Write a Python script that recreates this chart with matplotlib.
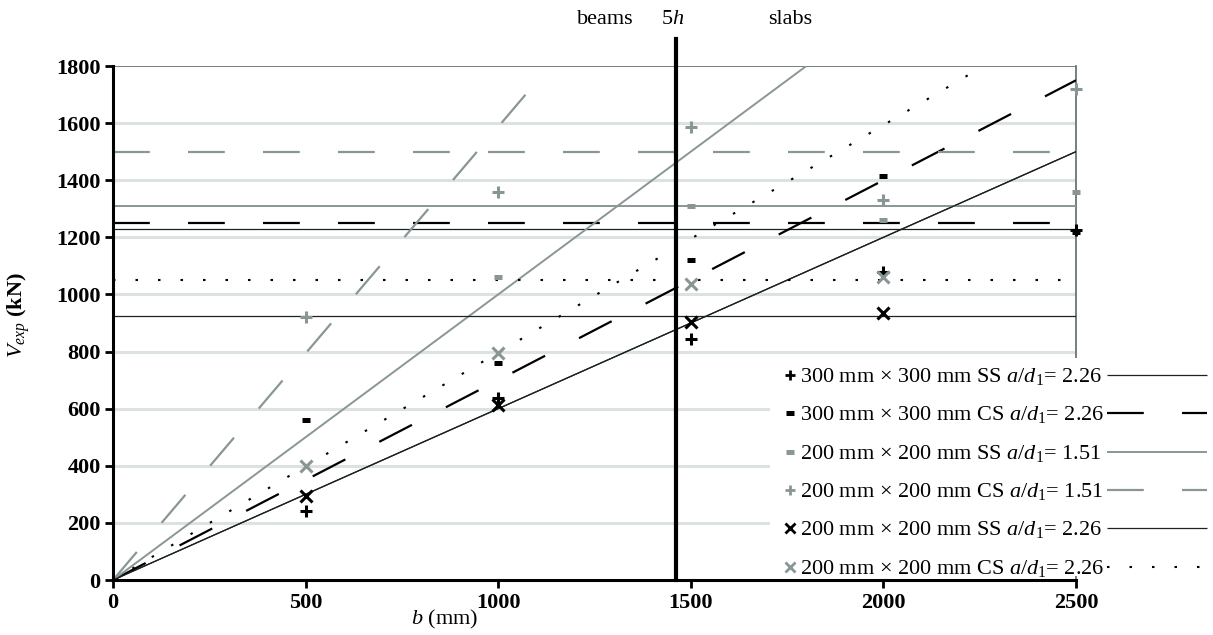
import matplotlib
matplotlib.use("Agg")
import matplotlib.pyplot as plt
from matplotlib.lines import Line2D
from matplotlib.patches import Rectangle

# --- data ---
b_pts = [500, 1000, 1500, 2000, 2500]

ss300_226 = [240, 637, 845, 1080, 1225]        # 300 mm x 300 mm SS a/d1 = 2.26
cs300_226 = [560, 760, 1120, 1415, 1220]       # 300 mm x 300 mm CS a/d1 = 2.26
ss200_151 = [None, 1060, 1310, 1260, 1360]     # 200 mm x 200 mm SS a/d1 = 1.51
cs200_151 = [921, 1358, 1585, 1330, 1719]      # 200 mm x 200 mm CS a/d1 = 1.51
ss200_226 = [295, 613, 905, 935, None]         # 200 mm x 200 mm SS a/d1 = 2.26
cs200_226 = [400, 795, 1035, 1060, None]       # 200 mm x 200 mm CS a/d1 = 2.26

# sloped lines (b, V) end points and horizontal limits
slope_300_ss = ([0, 2500], [0, 1500])
slope_300_cs = ([0, 2500], [0, 1750])
slope_200_ss151 = ([0, 1800], [0, 1800])
slope_200_cs151 = ([0, 1085], [0, 1722])
slope_200_ss226 = ([0, 2500], [0, 1500])
slope_200_cs226 = ([0, 2240], [0, 1784])

limit_300_ss = 1230
limit_300_cs = 1250
limit_200_ss151 = 1310
limit_200_cs151 = 1500
limit_200_ss226 = 925
limit_200_cs226 = 1050

b_5h = 1462

labels = [
    r'300 mm × 300 mm SS $a/d_1$= 2.26',
    r'300 mm × 300 mm CS $a/d_1$= 2.26',
    r'200 mm × 200 mm SS $a/d_1$= 1.51',
    r'200 mm × 200 mm CS $a/d_1$= 1.51',
    r'200 mm × 200 mm SS $a/d_1$= 2.26',
    r'200 mm × 200 mm CS $a/d_1$= 2.26',
]

plt.rcParams['font.family'] = ['Liberation Serif', 'DejaVu Serif']
plt.rcParams['mathtext.fontset'] = 'custom'
plt.rcParams['mathtext.rm'] = 'Liberation Serif'
plt.rcParams['mathtext.it'] = 'Liberation Serif:italic'
plt.rcParams['mathtext.bf'] = 'Liberation Serif:bold'
plt.rcParams['lines.scale_dashes'] = False

W, H = 1213, 635
fig = plt.figure(figsize=(W / 100, H / 100), dpi=100)
ax = fig.add_axes([113 / W, 1 - 580 / H, 963 / W, 514 / H])

gray = '#8a9696'
dark = '#1a2222'
dash = (26.5, 27.5)
dots = (1.8, 14.4)

# styles per series: marker, marker colour, line colour, line width, dashes
styles = [
    dict(marker='+', color='black', lcolor=dark, lw=0.9, ls=None),
    dict(marker='_', color='black', lcolor='black', lw=1.6, ls=dash),
    dict(marker='_', color=gray, lcolor=gray, lw=1.4, ls=None),
    dict(marker='+', color=gray, lcolor=gray, lw=1.6, ls=dash),
    dict(marker='x', color='black', lcolor=dark, lw=0.9, ls=None),
    dict(marker='x', color=gray, lcolor='black', lw=1.5, ls=dots),
]
series = [ss300_226, cs300_226, ss200_151, cs200_151, ss200_226, cs200_226]
slopes = [slope_300_ss, slope_300_cs, slope_200_ss151, slope_200_cs151,
          slope_200_ss226, slope_200_cs226]
limits = [limit_300_ss, limit_300_cs, limit_200_ss151, limit_200_cs151,
          limit_200_ss226, limit_200_cs226]

# light grid
for yv in range(200, 1800, 200):
    ax.axhline(yv, color='#dce2e1', lw=2.2, zorder=1)
ax.axhline(1800, color='#5f6a6a', lw=1.2, zorder=2)

for st, (sx, sy), lim in zip(styles, slopes, limits):
    kw = dict(color=st['lcolor'], lw=st['lw'], zorder=3, solid_capstyle='butt',
              dash_capstyle='butt')
    l1, = ax.plot(sx, sy, **kw)
    l2, = ax.plot([0, 2500], [lim, lim], **kw)
    if st['ls'] is not None:
        l1.set_dashes(st['ls'])
        l2.set_dashes(st['ls'])

for st, vals in zip(styles, series):
    xs = [b for b, v in zip(b_pts, vals) if v is not None]
    ys = [v for v in vals if v is not None]
    if st['marker'] == '_':
        ax.plot(xs, ys, ls='none', marker='_', ms=5.5, mew=3.6,
                color=st['color'], zorder=5, clip_on=False)
    else:
        ax.plot(xs, ys, ls='none', marker=st['marker'], ms=8, mew=2.2,
                color=st['color'], zorder=5, clip_on=False)

# beams / slabs boundary
ax.axvline(b_5h, ymin=0, ymax=(580 - 39) / 514, color='black', lw=3,
           clip_on=False, zorder=6)

ax.set_xlim(0, 2500)
ax.set_ylim(0, 1800)
ax.set_xticks(range(0, 2501, 500))
ax.set_yticks(range(0, 1801, 200))
for lab in ax.get_xticklabels() + ax.get_yticklabels():
    lab.set_fontweight('bold')
ax.tick_params(axis='both', direction='out', length=6, width=2,
               labelsize=16, pad=3)
ax.spines['top'].set_visible(False)
ax.spines['right'].set_color('#5f6a6a')
ax.spines['right'].set_linewidth(1.2)
ax.spines['left'].set_linewidth(2.2)
ax.spines['bottom'].set_linewidth(2.2)
ax.spines['left'].set_zorder(7)
ax.spines['bottom'].set_zorder(7)

ax.set_xlabel(r'$b$ (mm)', fontsize=16)
ax.xaxis.set_label_coords((445 - 113) / 963, -(608 - 580) / 514)
ax.set_ylabel(r'$V_{exp}$ (kN)', fontsize=16, fontweight='bold')
ax.yaxis.set_label_coords(-(113 - 32) / 963, (580 - 315) / 514)

fig.text(605 / W, 1 - 20 / H, 'beams', fontsize=16, ha='center', va='center')
fig.text(673 / W, 1 - 20 / H, r'5$h$', fontsize=16, ha='center', va='center')
fig.text(790 / W, 1 - 20 / H, 'slabs', fontsize=16, ha='center', va='center')

# legend drawn by hand: marker, text, line sample
fig.add_artist(Rectangle((770 / W, 1 - 576 / H), (W - 770) / W, (576 - 358) / H,
                         transform=fig.transFigure, facecolor='white',
                         edgecolor='none', zorder=10))
row_y = [375, 413, 452, 490, 528, 567]
for st, lab, ry in zip(styles, labels, row_y):
    fy = 1 - ry / H
    if st['marker'] == '_':
        mk = dict(marker='_', ms=5.5, mew=3.6)
    else:
        mk = dict(marker=st['marker'], ms=7, mew=2.0)
    fig.add_artist(Line2D([790 / W], [fy], transform=fig.transFigure, ls='none',
                          color=st['color'], zorder=11, **mk))
    fig.text(800 / W, 1 - (ry + 7) / H, lab, fontsize=16, ha='left',
             va='baseline', zorder=11)
    ln = Line2D([1107 / W, 1207 / W], [fy, fy], transform=fig.transFigure,
                color=st['lcolor'], lw=st['lw'], zorder=11,
                solid_capstyle='butt', dash_capstyle='butt')
    if st['ls'] is not None:
        ln.set_dashes(st['ls'])
    fig.add_artist(ln)

fig.savefig('out.png', dpi=100)
